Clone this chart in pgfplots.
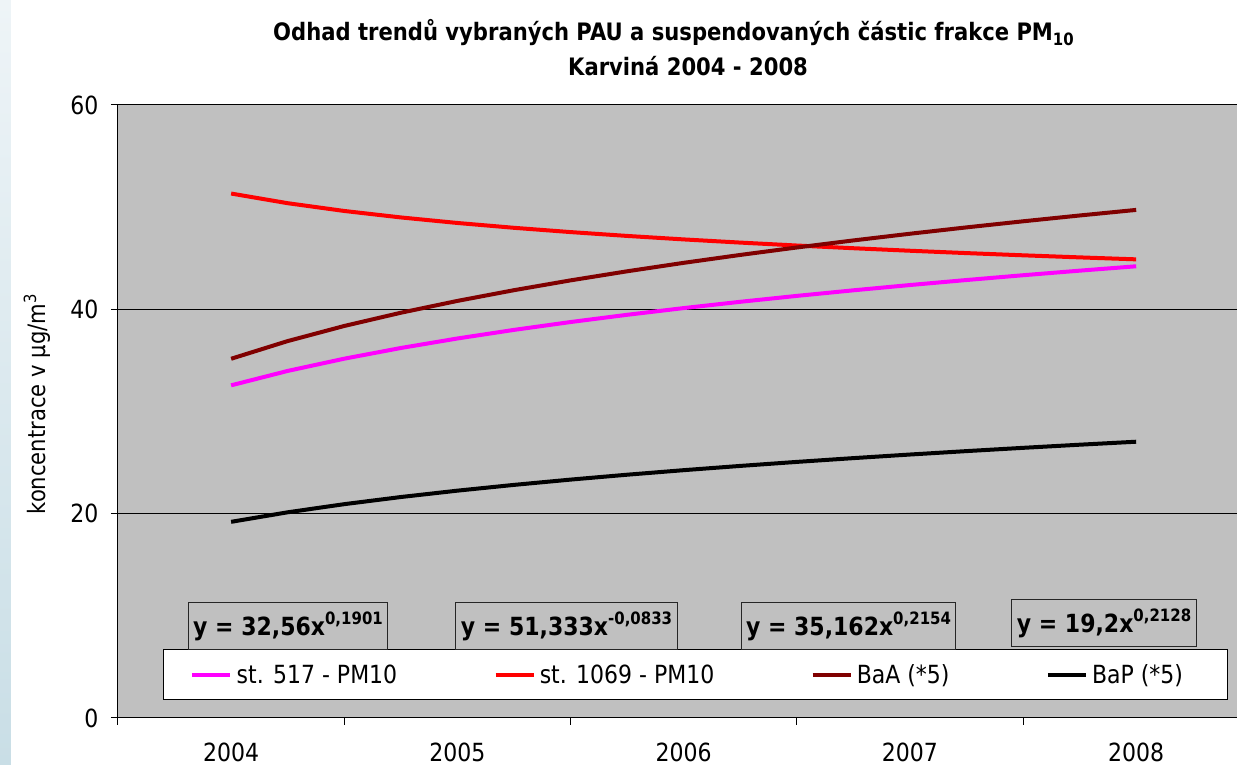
\documentclass[border=0pt]{standalone}
\usepackage{fontspec}
\setmainfont[FakeStretch=0.88]{DejaVu Sans}
\usepackage{pgfplots}
\pgfplotsset{compat=1.18}
\definecolor{bggray}{HTML}{C0C0C0}
\definecolor{maroonline}{HTML}{800000}
\definecolor{magentaline}{HTML}{FF00FF}
\definecolor{redline}{HTML}{FF0000}
\definecolor{stripA}{HTML}{EEF4F7}
\definecolor{stripB}{HTML}{C9DEE6}
\newcommand{\tf}{\fontsize{25}{29}\selectfont}
\begin{document}
\begin{tikzpicture}
\path[use as bounding box] (-118pt,-47pt) rectangle (1119pt,718pt);
\shade[top color=stripA, bottom color=stripB] (-118pt,-47pt) rectangle (-107pt,718pt);
\begin{axis}[
  at={(0pt,0pt)}, anchor=south west,
  scale only axis, width=1119pt, height=613pt,
  xmin=0.5, xmax=5.4459, ymin=0, ymax=60,
  axis background/.style={fill=bggray},
  axis lines=left, axis line style={-, line width=1pt, black},
  ymajorgrids, grid style={black, line width=1pt},
  ytick={0,20,40,60},
  xtick={0.5,1.5,2.5,3.5,4.5}, xticklabels={},
  extra x ticks={1,2,3,4,5}, extra x tick labels={2004,2005,2006,2007,2008},
  extra x tick style={tick style={draw=none}},
  major tick length=7pt,
  tick align=outside, tick style={black, line width=1pt},
  /pgf/number format/assume math mode=true,
  tick label style={font=\tf},
  yticklabel style={xshift=-9pt},
  xticklabel style={yshift=-14pt},
  ylabel={koncentrace v µg/m\textsuperscript{3}},
  ylabel style={at={(axis description cs:-0.0724,0.512)}, anchor=center, font=\fontsize{24}{28}\selectfont},
  legend style={draw=none, fill=none, at={(axis cs:0.8182,4.209)}, anchor=west,
    legend columns=4, font=\tf, inner sep=0pt, nodes={inner sep=0pt},
    /tikz/every odd column/.append style={column sep=4pt},
    /tikz/every even column/.append style={column sep=96pt}},
  legend image code/.code={\draw[#1, line width=4.5pt] (0pt,0pt) -- (38pt,0pt);},
  every axis plot/.append style={line width=4pt, line join=round, line cap=butt},
]
\draw[fill=white, line width=1pt] (axis cs:0.6989,6.656) rectangle (axis cs:5.4017,1.762);

\addplot[magentaline] coordinates {
(1,32.560) (1.25,33.971) (1.5,35.169) (1.75,36.215) (2,37.146) (2.25,37.987)
(2.5,38.756) (2.75,39.464) (3,40.122) (3.25,40.737) (3.5,41.315) (3.75,41.861)
(4,42.378) (4.25,42.869) (4.5,43.337) (4.75,43.785) (5,44.214)};
\addlegendentry{st. 517 - PM10}

\addplot[redline] coordinates {
(1,51.333) (1.25,50.388) (1.5,49.628) (1.75,48.995) (2,48.453) (2.25,47.980)
(2.5,47.561) (2.75,47.185) (3,46.844) (3.25,46.533) (3.5,46.246) (3.75,45.981)
(4,45.735) (4.25,45.504) (4.5,45.288) (4.75,45.085) (5,44.892)};
\addlegendentry{st. 1069 - PM10}

\addplot[maroonline] coordinates {
(1,35.162) (1.25,36.893) (1.5,38.371) (1.75,39.666) (2,40.824) (2.25,41.873)
(2.5,42.834) (2.75,43.722) (3,44.550) (3.25,45.324) (3.5,46.054) (3.75,46.743)
(4,47.398) (4.25,48.021) (4.5,48.616) (4.75,49.185) (5,49.732)};
\addlegendentry{BaA (*5)}

\addplot[black] coordinates {
(1,19.200) (1.25,20.134) (1.5,20.930) (1.75,21.628) (2,22.252) (2.25,22.816)
(2.5,23.334) (2.75,23.812) (3,24.257) (3.25,24.673) (3.5,25.066) (3.75,25.436)
(4,25.788) (4.25,26.123) (4.5,26.443) (4.75,26.749) (5,27.042)};
\addlegendentry{BaP (*5)}

\tikzset{eqbox/.style={draw=black!85, line width=1pt, inner xsep=5pt, inner ysep=0pt,
  minimum height=47pt, font=\fontsize{25}{28}\selectfont\bfseries}}
\node[eqbox] at (axis cs:1.2514,9.005) {y = 32,56x\raisebox{11pt}{\fontsize{17}{17}\selectfont 0,1901}};
\node[eqbox] at (axis cs:2.4823,9.005) {y = 51,333x\raisebox{11pt}{\fontsize{17}{17}\selectfont -0,0833}};
\node[eqbox] at (axis cs:3.7287,9.005) {y = 35,162x\raisebox{11pt}{\fontsize{17}{17}\selectfont 0,2154}};
\node[eqbox] at (axis cs:4.8580,9.300) {y = 19,2x\raisebox{11pt}{\fontsize{17}{17}\selectfont 0,2128}};
\end{axis}
\node[font=\fontsize{24}{28}\selectfont\bfseries, inner sep=0pt] at (555.5pt,685pt)
  {Odhad trendů vybraných PAU a suspendovaných částic frakce PM\raisebox{-5pt}{\fontsize{17}{17}\selectfont 10}};
\node[font=\fontsize{24}{28}\selectfont\bfseries, inner sep=0pt] at (570pt,652pt)
  {Karviná 2004 - 2008};
\end{tikzpicture}
\end{document}
